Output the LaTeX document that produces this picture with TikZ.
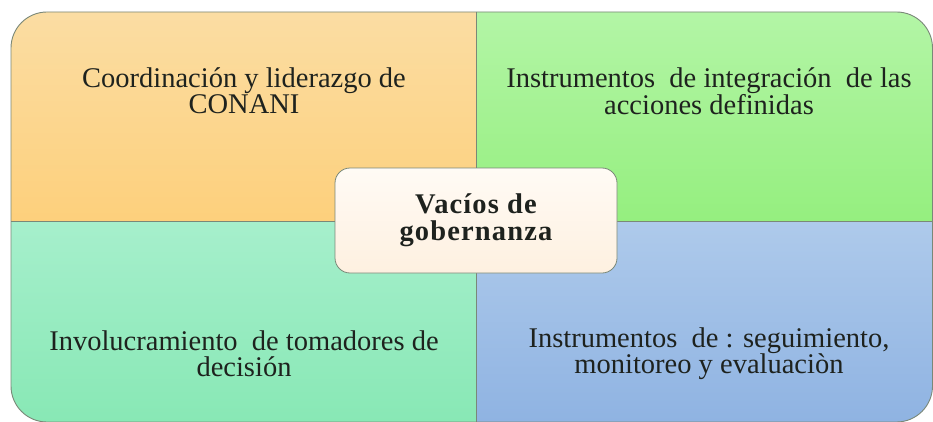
\documentclass[tikz,border=0pt]{standalone}
\usepackage{fontspec}
\setmainfont{Liberation Serif}
\definecolor{orT}{HTML}{FBDDA3}
\definecolor{orB}{HTML}{FDD07C}
\definecolor{grT}{HTML}{B3F5A6}
\definecolor{grB}{HTML}{95EF7F}
\definecolor{tqT}{HTML}{A6EFCC}
\definecolor{tqB}{HTML}{88E8B5}
\definecolor{blT}{HTML}{AECAEB}
\definecolor{blB}{HTML}{8FB3E2}
\definecolor{ceT}{HTML}{FFFBF5}
\definecolor{ceB}{HTML}{FEF0E0}
\definecolor{edge}{HTML}{7A8878}
\definecolor{ink}{HTML}{1E221E}
\begin{document}
\begin{tikzpicture}[x=1pt,y=1pt,
  quadtext/.style={text=ink, align=center, font=\fontsize{28.5}{26}\selectfont, inner sep=0pt},
  centertext/.style={text=ink, align=center, font=\fontsize{28.5}{27}\selectfont\bfseries\addfontfeatures{LetterSpace=4}, inner sep=0pt},
  centerbox/.style={draw=edge, line width=0.8pt, rounded corners=15pt, top color=ceT, bottom color=ceB, minimum width=282pt, minimum height=105pt}]
\useasboundingbox (0,0) rectangle (933,421);
\fill[white] (0,0) rectangle (933,421);
\begin{scope}
  \clip[rounded corners=36pt] (11,-1) rectangle (932.5,409);
  \shade[top color=orT, bottom color=orB] (11,200) rectangle (476,409);
  \shade[top color=grT, bottom color=grB] (476,200) rectangle (933,409);
  \shade[top color=tqT, bottom color=tqB] (11,-1) rectangle (476,200);
  \shade[top color=blT, bottom color=blB] (476,-1) rectangle (933,200);
\end{scope}
\coordinate (vt) at (476,409);
\coordinate (vb) at (476,-1);
\coordinate (hl) at (11,200);
\coordinate (hr) at (932.5,200);
\draw[edge, line width=0.8pt] (vt) -- (vb);
\draw[edge, line width=0.8pt] (hl) -- (hr);
\draw[edge, line width=0.9pt, rounded corners=36pt] (11,-1) rectangle (932.5,409);
\node[quadtext] (tl) at (244,330) {Coordinación y liderazgo de\\CONANI};
\node[quadtext] (tr) at (709,330) {Instrumentos\ \ de integración\ \ de las\\acciones definidas};
\node[quadtext] (bl) at (244,67) {Involucramiento\ \ de tomadores de\\decisión};
\node[quadtext] (br) at (709,67) {Instrumentos\ \ de : seguimiento,\\monitoreo y evaluaciòn};
\node[centerbox] (c) at (476,200.5) {};
\node[centertext] (ct) at (c.center) {Vacíos de\\gobernanza};
\end{tikzpicture}
\end{document}
